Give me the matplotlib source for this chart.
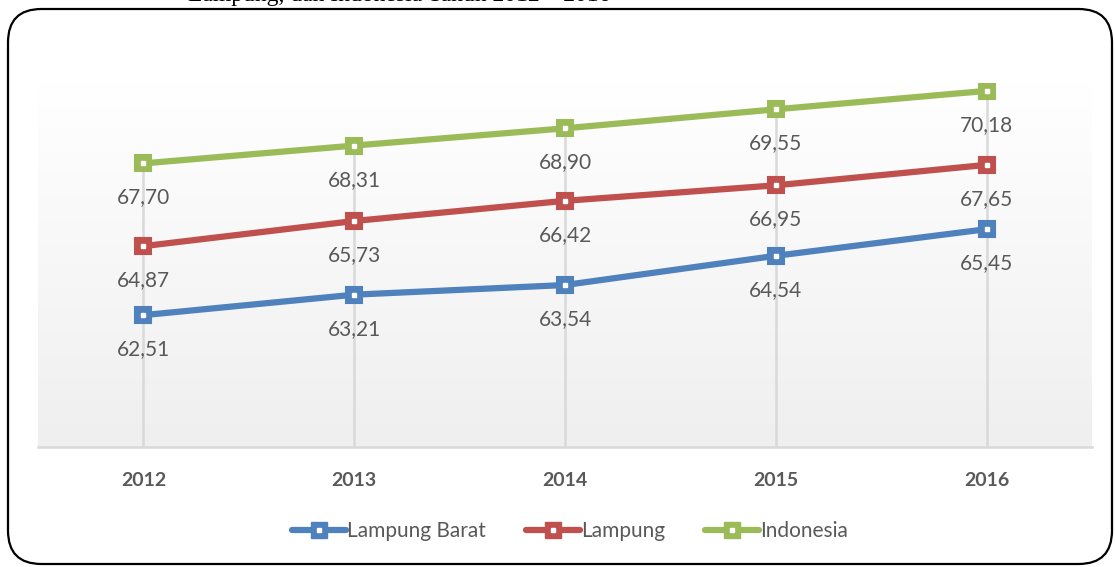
import numpy as np
import matplotlib.pyplot as plt
from matplotlib.patches import FancyBboxPatch
from matplotlib.lines import Line2D
from matplotlib.colors import LinearSegmentedColormap

years = ["2012", "2013", "2014", "2015", "2016"]
lampung_barat = [62.51, 63.21, 63.54, 64.54, 65.45]
lampung = [64.87, 65.73, 66.42, 66.95, 67.65]
indonesia = [67.70, 68.31, 68.90, 69.55, 70.18]
series_names = ["Lampung Barat", "Lampung", "Indonesia"]

colors = ["#4F81BD", "#C0504D", "#9BBB59"]
txt_color = "#595959"
font = ["Lato", "DejaVu Sans"]

W, H = 1115, 567
fig = plt.figure(figsize=(W / 100, H / 100), dpi=100)

# title cut off by the top of the image, only its lower edge shows
fig.text(188 / W, 1 - 1.5 / H, "Lampung, dan Indonesia Tahun 2012 \u2013 2016",
         family="Liberation Serif", fontsize=17, color="black", va="baseline")

# rounded frame
frame = FancyBboxPatch((8 / W, 3 / H), 1104 / W, 555 / H,
                       boxstyle="round,pad=0,rounding_size=0.03",
                       transform=fig.transFigure, fill=False,
                       edgecolor="black", linewidth=1.6, mutation_aspect=W / H)
fig.patches.append(frame)

ax = fig.add_axes([38 / W, 1 - 447 / H, (1092 - 38) / W, (447 - 83) / H])
ax.set_xlim(-0.5, len(years) - 0.5)
ax.set_ylim(58.0, 70.45)

# background gradient
grad = np.linspace(0, 1, 256).reshape(-1, 1)
cmap = LinearSegmentedColormap.from_list("g", ["#ffffff", "#efefef"])
ax.imshow(grad, extent=(-0.5, len(years) - 0.5, 58.0, 70.45), aspect="auto",
          cmap=cmap, origin="upper", zorder=0)

x = np.arange(len(years))
all_series = [lampung_barat, lampung, indonesia]

# drop lines
tops = np.max(np.array(all_series), axis=0)
ax.vlines(x, 58.0, tops, color="#d9d9d9", linewidth=1.8, zorder=1)

handles = []
for vals, col, name in zip(all_series, colors, series_names):
    ax.plot(x, vals, color=col, linewidth=4.5, solid_capstyle="round", zorder=3)
    ax.plot(x, vals, linestyle="none", marker="s", markersize=12,
            markerfacecolor=col, markeredgecolor=col, markeredgewidth=1.5,
            zorder=4)
    ax.plot(x, vals, linestyle="none", marker="s", markersize=3.5,
            markerfacecolor="white", markeredgecolor="white", zorder=5)
    for xi, v in zip(x, vals):
        ax.annotate(f"{v:.2f}".replace(".", ","), (xi, v), xytext=(0, -24.5),
                    textcoords="offset points", ha="center", va="center",
                    fontsize=15, color=txt_color, family=font, zorder=6)
    h1 = Line2D([], [], color=col, linewidth=4.5, solid_capstyle="round",
                marker="s", markersize=12, markerfacecolor=col,
                markeredgecolor=col)
    h2 = Line2D([], [], linestyle="none", marker="s", markersize=3.5,
                markerfacecolor="white", markeredgecolor="white")
    handles.append((h1, h2))

for s in ["top", "right", "left"]:
    ax.spines[s].set_visible(False)
ax.spines["bottom"].set_color("#d9d9d9")
ax.spines["bottom"].set_linewidth(1.8)
ax.set_yticks([])
ax.set_xticks(x)
ax.set_xticklabels(years, fontsize=14, fontweight="bold", color=txt_color,
                   family=font)
ax.tick_params(axis="x", length=0, pad=18)

leg = fig.legend(handles, series_names, loc="center", ncol=3,
                 bbox_to_anchor=(570 / W, 1 - 531 / H), frameon=False,
                 handlelength=2.6, handletextpad=0.05, columnspacing=1.9,
                 prop={"family": font, "size": 15})
for t in leg.get_texts():
    t.set_color(txt_color)

fig.savefig("out.png", dpi=100)
